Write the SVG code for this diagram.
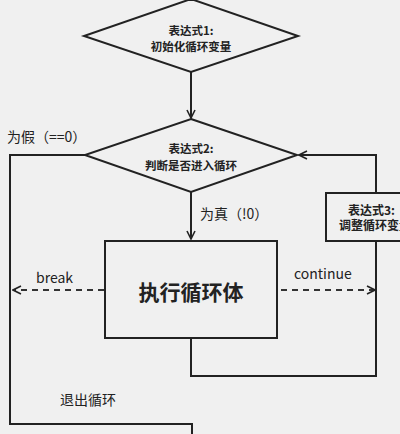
<svg xmlns="http://www.w3.org/2000/svg" width="400" height="434" viewBox="0 0 400 434">
<defs>
<style>
.ln{fill:none;stroke:#222;stroke-width:2}
.sh{fill:#f0f0f0;stroke:#222;stroke-width:2}
.ds{fill:none;stroke:#333;stroke-width:2;stroke-dasharray:6,5}
.t{font-family:"Noto Sans CJK SC","Noto Sans",sans-serif;fill:#222}
.b{font-weight:bold}
</style>
<marker id="ar2" viewBox="0 0 10 10" refX="9" refY="5" markerWidth="10" markerHeight="10" orient="auto" markerUnits="userSpaceOnUse">
<path d="M1,1 L9,5 L1,9" fill="none" stroke="#222" stroke-width="1.6"/>
</marker>
</defs>
<rect width="400" height="434" fill="#f0f0f0"/>
<g id="connectors">
<path class="ln" d="M191,72 V118" marker-end="url(#ar2)"/>
<path class="ln" d="M85,155 H10 V424 H192 V434"/>
<path class="ln" d="M191,192 V239" marker-end="url(#ar2)"/>
<path class="ln" d="M191,338 V376 H376 V241"/>
<path class="ln" d="M376,193 V155 H299" marker-end="url(#ar2)"/>
<path class="ds" d="M104,290 H13" marker-end="url(#ar2)"/>
<path class="ds" d="M281,290 H375" marker-end="url(#ar2)"/>
</g>
<g id="n1">
<polygon class="sh" points="191,-1 298,36 191,72 84,36"/>
<text class="t b" x="191" y="35" font-size="11.5" text-anchor="middle">表达式1:</text>
<text class="t b" x="191" y="51" font-size="11.5" text-anchor="middle">初始化循环变量</text>
</g>
<g id="n2">
<polygon class="sh" points="191,119 297,155 191,192 85,155"/>
<text class="t b" x="191" y="153" font-size="11.5" text-anchor="middle">表达式2:</text>
<text class="t b" x="191" y="170" font-size="11.5" text-anchor="middle">判断是否进入循环</text>
</g>
<g id="n3">
<rect class="sh" x="105" y="241" width="172" height="97"/>
<text class="t b" x="191" y="300" font-size="21" text-anchor="middle">执行循环体</text>
</g>
<g id="n4">
<rect class="sh" x="326" y="193" width="90" height="48"/>
<text class="t b" x="348" y="215" font-size="12">表达式3:</text>
<text class="t b" x="339" y="230" font-size="12">调整循环变量</text>
</g>
<g id="labels">
<text class="t" x="7" y="142" font-size="14">为假（==0）</text>
<text class="t" x="200" y="219" font-size="14">为真（!0）</text>
<text class="t" x="36" y="283" font-size="14">break</text>
<text class="t" x="294" y="279" font-size="14">continue</text>
<text class="t" x="60" y="405" font-size="14">退出循环</text>
</g>
</svg>
